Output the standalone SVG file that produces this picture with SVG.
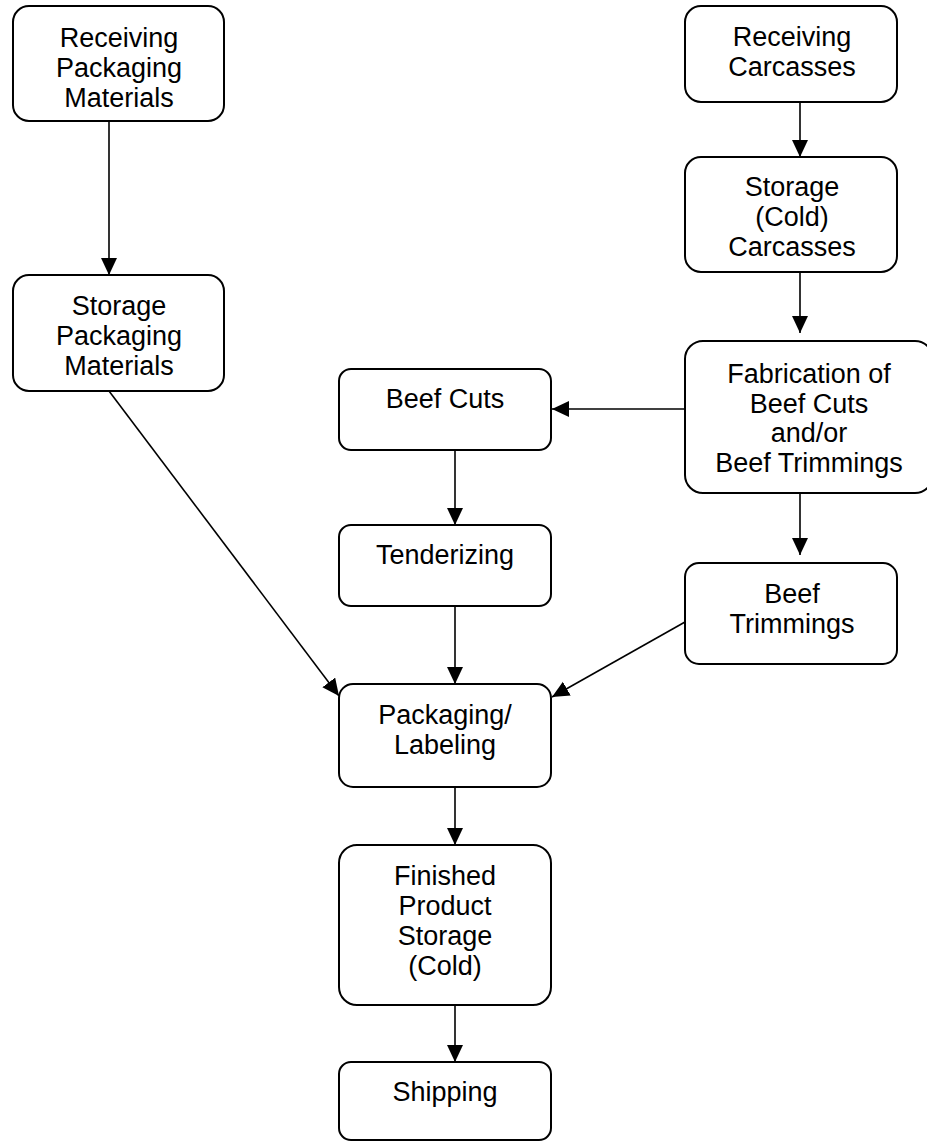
<svg xmlns="http://www.w3.org/2000/svg" width="927" height="1142" viewBox="0 0 927 1142">
<style>
.box{fill:#fff;stroke:#000;stroke-width:2}
.lbl{font-family:"Liberation Sans",Arial,sans-serif;font-size:27px;fill:#000;text-anchor:middle}
.edge{stroke:#000;stroke-width:1.6;fill:none;marker-end:url(#ah)}
</style>
<defs>
<marker id="ah" markerUnits="userSpaceOnUse" markerWidth="18" markerHeight="17" refX="17" refY="8" orient="auto">
<path d="M0,0 L17,8 L0,16 Z" fill="#000"/>
</marker>
</defs>
<rect width="927" height="1142" fill="#fff"/>
<g id="connectors">
<line class="edge" x1="109" y1="121" x2="109" y2="275"/>
<line class="edge" x1="800" y1="102" x2="800" y2="157"/>
<line class="edge" x1="800" y1="273" x2="800" y2="333"/>
<line class="edge" x1="685" y1="409" x2="552" y2="409"/>
<line class="edge" x1="800" y1="493" x2="800" y2="555"/>
<line class="edge" x1="455" y1="449" x2="455" y2="525"/>
<line class="edge" x1="455" y1="606" x2="455" y2="684"/>
<line class="edge" x1="685" y1="622" x2="552" y2="697"/>
<line class="edge" x1="109" y1="391" x2="339" y2="696"/>
<line class="edge" x1="455" y1="787" x2="455" y2="845"/>
<line class="edge" x1="455" y1="1005" x2="455" y2="1062"/>
</g>
<g id="recv-pack">
<rect class="box" x="13" y="6" width="211" height="115" rx="16"/>
<text class="lbl" x="119" y="47">Receiving</text>
<text class="lbl" x="119" y="77">Packaging</text>
<text class="lbl" x="119" y="107">Materials</text>
</g>
<g id="stor-pack">
<rect class="box" x="13" y="275" width="211" height="116" rx="16"/>
<text class="lbl" x="119" y="315">Storage</text>
<text class="lbl" x="119" y="345">Packaging</text>
<text class="lbl" x="119" y="375">Materials</text>
</g>
<g id="recv-carc">
<rect class="box" x="685" y="6" width="212" height="96" rx="16"/>
<text class="lbl" x="792" y="46">Receiving</text>
<text class="lbl" x="792" y="76">Carcasses</text>
</g>
<g id="stor-carc">
<rect class="box" x="685" y="157" width="212" height="115" rx="16"/>
<text class="lbl" x="792" y="196">Storage</text>
<text class="lbl" x="792" y="226">(Cold)</text>
<text class="lbl" x="792" y="256">Carcasses</text>
</g>
<g id="fabrication">
<rect class="box" x="685" y="341" width="248" height="152" rx="18"/>
<text class="lbl" x="809" y="383">Fabrication of</text>
<text class="lbl" x="809" y="413">Beef Cuts</text>
<text class="lbl" x="809" y="442">and/or</text>
<text class="lbl" x="809" y="472">Beef Trimmings</text>
</g>
<g id="beef-cuts">
<rect class="box" x="339" y="369" width="212" height="81" rx="12"/>
<text class="lbl" x="445" y="408">Beef Cuts</text>
</g>
<g id="tenderizing">
<rect class="box" x="339" y="525" width="212" height="81" rx="12"/>
<text class="lbl" x="445" y="564">Tenderizing</text>
</g>
<g id="beef-trim">
<rect class="box" x="685" y="563" width="212" height="101" rx="14"/>
<text class="lbl" x="792" y="603">Beef</text>
<text class="lbl" x="792" y="633">Trimmings</text>
</g>
<g id="packaging">
<rect class="box" x="339" y="684" width="212" height="103" rx="14"/>
<text class="lbl" x="445" y="724">Packaging/</text>
<text class="lbl" x="445" y="754">Labeling</text>
</g>
<g id="finished">
<rect class="box" x="339" y="845" width="212" height="160" rx="18"/>
<text class="lbl" x="445" y="885">Finished</text>
<text class="lbl" x="445" y="915">Product</text>
<text class="lbl" x="445" y="945">Storage</text>
<text class="lbl" x="445" y="975">(Cold)</text>
</g>
<g id="shipping">
<rect class="box" x="339" y="1062" width="212" height="78" rx="12"/>
<text class="lbl" x="445" y="1101">Shipping</text>
</g>
</svg>
